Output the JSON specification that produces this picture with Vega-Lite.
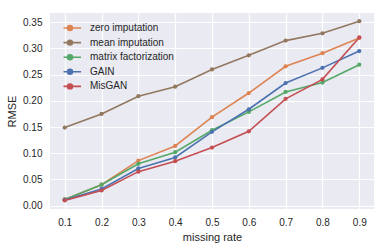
{
  "$schema": "https://vega.github.io/schema/vega-lite/v6.json",
  "width": 324,
  "height": 196,
  "autosize": "none",
  "padding": {"left": 50, "top": 13, "right": 13, "bottom": 40},
  "background": "white",
  "config": {
    "view": {"fill": "#EAEAF2", "stroke": null},
    "font": "Liberation Sans",
    "axis": {
      "domain": false, "ticks": false, "gridColor": "white", "gridWidth": 1.2,
      "labelColor": "#262626", "titleColor": "#262626",
      "labelFontSize": 10, "titleFontSize": 11, "titleFontWeight": "normal",
      "labelFont": "Liberation Sans", "titleFont": "Liberation Sans"
    }
  },
  "data": {"values": [
    {"rate":0.1,"method":"zero imputation","rmse":0.012},
    {"rate":0.2,"method":"zero imputation","rmse":0.040},
    {"rate":0.3,"method":"zero imputation","rmse":0.086},
    {"rate":0.4,"method":"zero imputation","rmse":0.114},
    {"rate":0.5,"method":"zero imputation","rmse":0.169},
    {"rate":0.6,"method":"zero imputation","rmse":0.215},
    {"rate":0.7,"method":"zero imputation","rmse":0.266},
    {"rate":0.8,"method":"zero imputation","rmse":0.291},
    {"rate":0.9,"method":"zero imputation","rmse":0.320},
    {"rate":0.1,"method":"mean imputation","rmse":0.149},
    {"rate":0.2,"method":"mean imputation","rmse":0.175},
    {"rate":0.3,"method":"mean imputation","rmse":0.209},
    {"rate":0.4,"method":"mean imputation","rmse":0.227},
    {"rate":0.5,"method":"mean imputation","rmse":0.260},
    {"rate":0.6,"method":"mean imputation","rmse":0.287},
    {"rate":0.7,"method":"mean imputation","rmse":0.315},
    {"rate":0.8,"method":"mean imputation","rmse":0.329},
    {"rate":0.9,"method":"mean imputation","rmse":0.352},
    {"rate":0.1,"method":"matrix factorization","rmse":0.012},
    {"rate":0.2,"method":"matrix factorization","rmse":0.040},
    {"rate":0.3,"method":"matrix factorization","rmse":0.080},
    {"rate":0.4,"method":"matrix factorization","rmse":0.102},
    {"rate":0.5,"method":"matrix factorization","rmse":0.144},
    {"rate":0.6,"method":"matrix factorization","rmse":0.179},
    {"rate":0.7,"method":"matrix factorization","rmse":0.217},
    {"rate":0.8,"method":"matrix factorization","rmse":0.235},
    {"rate":0.9,"method":"matrix factorization","rmse":0.269},
    {"rate":0.1,"method":"GAIN","rmse":0.011},
    {"rate":0.2,"method":"GAIN","rmse":0.032},
    {"rate":0.3,"method":"GAIN","rmse":0.071},
    {"rate":0.4,"method":"GAIN","rmse":0.092},
    {"rate":0.5,"method":"GAIN","rmse":0.141},
    {"rate":0.6,"method":"GAIN","rmse":0.184},
    {"rate":0.7,"method":"GAIN","rmse":0.234},
    {"rate":0.8,"method":"GAIN","rmse":0.263},
    {"rate":0.9,"method":"GAIN","rmse":0.295},
    {"rate":0.1,"method":"MisGAN","rmse":0.010},
    {"rate":0.2,"method":"MisGAN","rmse":0.029},
    {"rate":0.3,"method":"MisGAN","rmse":0.065},
    {"rate":0.4,"method":"MisGAN","rmse":0.085},
    {"rate":0.5,"method":"MisGAN","rmse":0.111},
    {"rate":0.6,"method":"MisGAN","rmse":0.142},
    {"rate":0.7,"method":"MisGAN","rmse":0.204},
    {"rate":0.8,"method":"MisGAN","rmse":0.241},
    {"rate":0.9,"method":"MisGAN","rmse":0.321}
  ]},
  "mark": {"type": "line", "strokeWidth": 1.6, "point": {"filled": true, "size": 18}},
  "encoding": {
    "x": {"field": "rate", "type": "quantitative",
      "scale": {"domain": [0.06, 0.94], "nice": false, "zero": false},
      "axis": {"values": [0.1,0.2,0.3,0.4,0.5,0.6,0.7,0.8,0.9], "format": ".1f", "labelPadding": 8, "title": "missing rate", "titlePadding": 4}},
    "y": {"field": "rmse", "type": "quantitative",
      "scale": {"domain": [-0.0063, 0.3677], "nice": false, "zero": false},
      "axis": {"values": [0,0.05,0.1,0.15,0.2,0.25,0.3,0.35], "format": ".2f", "labelPadding": 8, "title": "RMSE", "titlePadding": 5}},
    "color": {"field": "method", "type": "nominal",
      "scale": {"domain": ["zero imputation","mean imputation","matrix factorization","GAIN","MisGAN"],
                "range": ["#DD8452","#937860","#55A868","#4C72B0","#C44E52"]},
      "legend": {
        "title": null, "orient": "none", "legendX": 13.5, "legendY": 9,
        "labelFontSize": 10, "labelColor": "#262626", "labelFont": "Liberation Sans",
        "symbolType": "M-2,0H2M-0.44,0a0.44,0.44 0 1,0 0.88,0a0.44,0.44 0 1,0 -0.88,0",
        "symbolSize": 121, "symbolStrokeWidth": 1.6, "labelOffset": 13.5,
        "clipHeight": 12, "rowPadding": 2.6,
        "encode": {"symbols": {"update": {"fill": {"scale": "color", "field": "value"}, "fillOpacity": {"value": 1}}}}
      }}
  }
}
